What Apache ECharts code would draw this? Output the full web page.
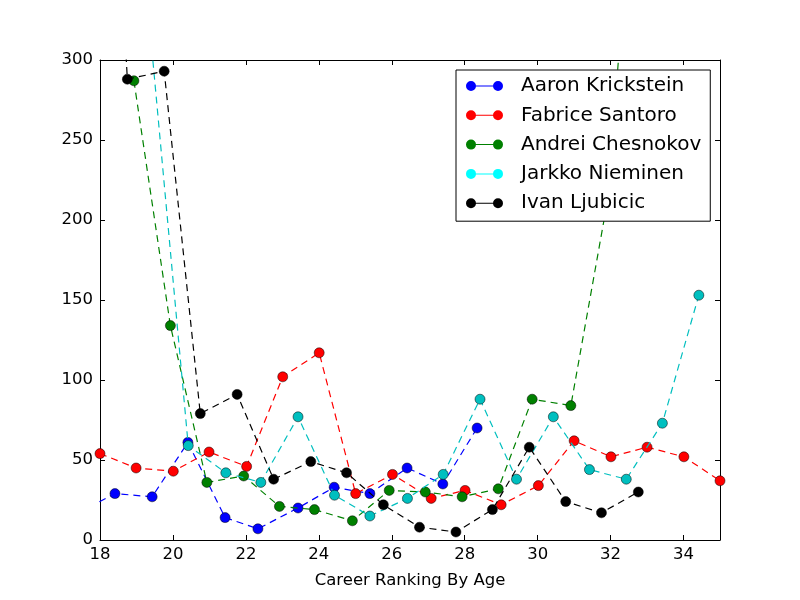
<!DOCTYPE html>
<html>
<head>
<meta charset="utf-8">
<script src="https://cdn.jsdelivr.net/npm/echarts@6/dist/echarts.min.js"></script>
<style>html,body{margin:0;padding:0;background:#fff}#c{width:800px;height:600px}</style>
</head>
<body>
<div id="c"></div>
<script>
// ---- data ----
const seriesNames = ['Aaron Krickstein', 'Fabrice Santoro', 'Andrei Chesnokov', 'Jarkko Nieminen', 'Ivan Ljubicic'];

const agesKrickstein = [17.4, 18.41, 19.43, 20.41, 21.43, 22.33, 23.43, 24.42, 25.40, 26.42, 27.40, 28.34];
const rankKrickstein = [17, 29, 27, 61, 14, 7, 20, 33, 29, 45, 35, 70];

const agesSantoro = [18, 18.99, 20.01, 20.99, 22.02, 23.01, 24.01, 25.01, 26.02, 27.08, 28.01, 29.0, 30.02, 31.0, 32.01, 33.0, 34.01, 35.0];
const rankSantoro = [54, 45, 43, 55, 46, 102, 117, 29, 41, 26, 31, 22, 34, 62, 52, 58, 52, 37];

const agesChesnokov = [18.93, 19.93, 20.93, 21.94, 22.92, 23.88, 24.92, 25.93, 26.92, 27.93, 28.92, 29.85, 30.91, 31.93, 32.93];
const rankChesnokov = [287, 134, 36, 40, 21, 19, 12, 31, 30, 27, 32, 88, 84, 214, 516];

const agesNieminen = [19.42, 20.42, 21.45, 22.41, 23.43, 24.43, 25.40, 26.43, 27.41, 28.42, 29.42, 30.43, 31.42, 32.43, 33.42, 34.42];
const rankNieminen = [307, 59, 42, 36, 77, 28, 15, 26, 41, 88, 38, 77, 44, 38, 73, 153];

const agesLjubicic = [17.75, 18.75, 19.76, 20.75, 21.76, 22.76, 23.78, 24.76, 25.77, 26.76, 27.76, 28.76, 29.77, 30.77, 31.75, 32.76];
const rankLjubicic = [700, 288, 293, 79, 91, 38, 49, 42, 22, 8, 5, 19, 58, 24, 17, 30];

const xTicks = { min: 18, max: 35, interval: 2 };
const yTicks = { min: 0, max: 300, interval: 50 };

// ---- styling ----
const colors = ['#0000ff', '#ff0000', '#008000', '#00bfbf', '#000000'];
const legendColors = ['#0000ff', '#ff0000', '#008000', '#00ffff', '#000000'];
const FONT = 'DejaVu Sans';

const allAges = [agesKrickstein, agesSantoro, agesChesnokov, agesNieminen, agesLjubicic];
const allRanks = [rankKrickstein, rankSantoro, rankChesnokov, rankNieminen, rankLjubicic];

const series = seriesNames.map((name, i) => ({
  name: name,
  type: 'line',
  data: allAges[i].map((a, j) => [a, allRanks[i][j]]),
  symbol: 'circle',
  symbolSize: 10,
  showSymbol: true,
  clip: true,
  animation: false,
  lineStyle: { color: colors[i], width: 1.2, type: [7, 5] },
  itemStyle: { color: colors[i], borderColor: '#000', borderWidth: 0.5 },
  emphasis: { disabled: true },
  z: 2 + i * 0.01
}));

const iconPath = 'path://M0,5A5,5 0 1,1 10,5A5,5 0 1,1 0,5ZM9,4.5L28,4.5L28,5.5L9,5.5ZM27,5A5,5 0 1,1 37,5A5,5 0 1,1 27,5Z';

const axisCommon = {
  axisLine: { show: true, onZero: false, lineStyle: { color: '#000', width: 1 } },
  axisTick: { show: true, inside: true, length: 5, lineStyle: { color: '#000', width: 1 } },
  splitLine: { show: false }
};

const option = {
  backgroundColor: '#fff',
  animation: false,
  grid: { left: 100, right: 80, top: 60, bottom: 60, containLabel: false },
  legend: {
    orient: 'vertical',
    left: 456,
    top: 70,
    padding: [6, 9, 8, 10],
    itemGap: 9.3,
    itemWidth: 37,
    itemHeight: 10,
    icon: iconPath,
    backgroundColor: '#fff',
    borderColor: '#000',
    borderWidth: 1,
    borderRadius: 0,
    selectedMode: false,
    itemStyle: { borderWidth: 0 },
    textStyle: { fontFamily: FONT, fontSize: 20, color: '#000', lineHeight: 20, padding: [0, 0, 0, 13] },
    data: seriesNames.map((n, i) => ({ name: n, itemStyle: { color: legendColors[i] } })),
    z: 10
  },
  xAxis: [
    Object.assign({
      type: 'value', position: 'bottom', min: xTicks.min, max: xTicks.max, interval: xTicks.interval,
      name: 'Career Ranking By Age', nameLocation: 'middle', nameGap: 32,
      nameTextStyle: { fontFamily: FONT, fontSize: 16.5, color: '#000' },
      axisLabel: { show: true, margin: 6, fontFamily: FONT, fontSize: 16.5, color: '#000', showMaxLabel: false }
    }, axisCommon),
    Object.assign({
      type: 'value', position: 'top', min: xTicks.min, max: xTicks.max, interval: xTicks.interval,
      axisLabel: { show: false }
    }, axisCommon)
  ],
  yAxis: [
    Object.assign({
      type: 'value', position: 'left', min: yTicks.min, max: yTicks.max, interval: yTicks.interval,
      axisLabel: { show: true, margin: 7, fontFamily: FONT, fontSize: 16.5, color: '#000' }
    }, axisCommon),
    Object.assign({
      type: 'value', position: 'right', min: yTicks.min, max: yTicks.max, interval: yTicks.interval,
      axisLabel: { show: false }
    }, axisCommon)
  ],
  series: series
};

const chart = echarts.init(document.getElementById('c'), null, { renderer: 'canvas' });
chart.setOption(option);
</script>
</body>
</html>
